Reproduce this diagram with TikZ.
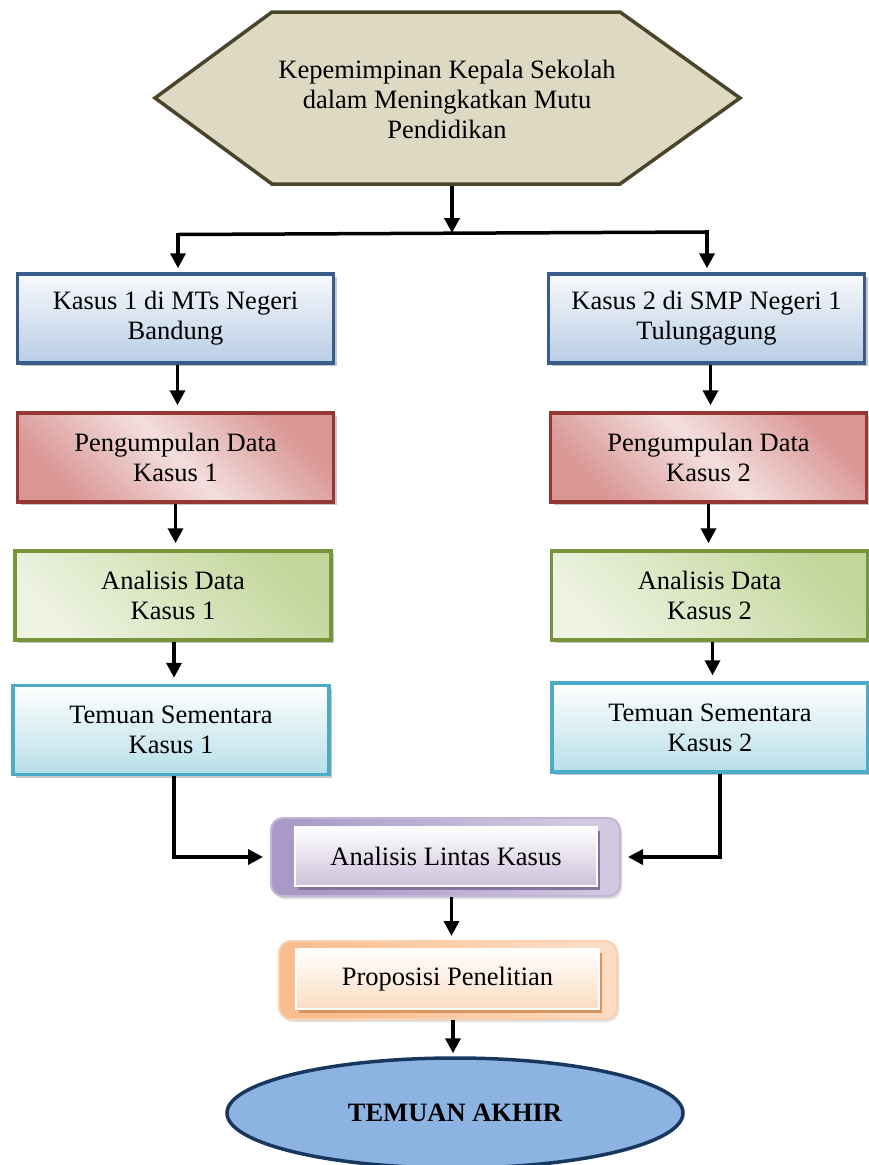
\documentclass[tikz,border=0pt]{standalone}
\usepackage{fontspec}
\setmainfont{Liberation Serif}
\usetikzlibrary{arrows.meta,shapes.geometric,shadows,calc}
\definecolor{hexfill}{HTML}{DDD9C3}
\definecolor{hexbd}{HTML}{4A452A}
\definecolor{bluebd}{HTML}{385D8A}
\definecolor{bluetop}{HTML}{F7F9FC}
\definecolor{bluebot}{HTML}{B9CDE5}
\definecolor{redbd}{HTML}{953735}
\definecolor{reddk}{HTML}{D99694}
\definecolor{redlt}{HTML}{F3DFDE}
\definecolor{greenbd}{HTML}{77933C}
\definecolor{greendk}{HTML}{C3D69B}
\definecolor{greenlt}{HTML}{EEF3E2}
\definecolor{cyanbd}{HTML}{4BACC6}
\definecolor{cyanbot}{HTML}{B7DEE8}
\definecolor{purdk}{HTML}{A999C6}
\definecolor{purlt}{HTML}{D2C8E0}
\definecolor{purin}{HTML}{CCC1DA}
\definecolor{purbd}{HTML}{C2B6D6}
\definecolor{purshadow}{HTML}{85729F}
\definecolor{ordk}{HTML}{F9BC8C}
\definecolor{orlt}{HTML}{FCDCC2}
\definecolor{orbd}{HTML}{FBD0AE}
\definecolor{orshadow}{HTML}{D9955F}
\definecolor{ellfill}{HTML}{8DB3E2}
\definecolor{ellbd}{HTML}{17375E}
\begin{document}
\begin{tikzpicture}[x=1pt,y=-1pt,
  every node/.style={font=\fontsize{26.5}{30}\selectfont, align=center},
  conn/.style={line width=3.5pt, black},
  arr/.style={conn, -{Triangle[length=15pt,width=15pt]}},
  box/.style={rectangle, minimum width=316pt, minimum height=89pt, line width=3.5pt, inner sep=2pt,
    drop shadow={shadow xshift=3pt, shadow yshift=-3pt, fill=black!22, opacity=1}},
  bluebox/.style={box, draw=bluebd, top color=bluetop, bottom color=bluebot},
  redbox/.style={box, draw=redbd, top color=reddk, bottom color=reddk, middle color=redlt, shading angle=-45},
  greenbox/.style={box, draw=greenbd, top color=greendk, bottom color=greenlt, shading angle=-45},
  cyanbox/.style={box, draw=cyanbd, top color=white, bottom color=cyanbot},
  outerbox/.style={rectangle, rounded corners=12pt, line width=2pt},
  innerbox/.style={rectangle, draw=white, line width=1.5pt, top color=white},
]
\useasboundingbox (0,0) rectangle (869,1165);

% top hexagon
\draw[fill=hexfill, draw=hexbd, line width=3.5pt, line join=miter]
  (272,12) -- (620,12) -- (740,98) -- (620,184) -- (272,184) -- (155,98) -- cycle;
\node (top) at (447,99) {Kepemimpinan Kepala Sekolah\\dalam Meningkatkan Mutu\\Pendidikan};
\coordinate (hexb) at (452,186);
\coordinate (jn) at (452,233);
\coordinate (jl) at (178,234.5);
\coordinate (jr) at (707,232);

% left column
\node[bluebox] (k1) at (175.5,318.5) {Kasus 1 di MTs Negeri\\Bandung};
\node[redbox] (p1) at (175.5,457.5) {Pengumpulan Data\\Kasus 1};
\node[greenbox] (a1) at (173,595.5) {Analisis Data\\Kasus 1};
\node[cyanbox] (t1) at (171,730) {Temuan Sementara\\Kasus 1};

% right column
\node[bluebox] (k2) at (706.5,318.5) {Kasus 2 di SMP Negeri 1\\Tulungagung};
\node[redbox] (p2) at (708.5,457.5) {Pengumpulan Data\\Kasus 2};
\node[greenbox] (a2) at (709.5,595.5) {Analisis Data\\Kasus 2};
\node[cyanbox] (t2) at (710,727.5) {Temuan Sementara\\Kasus 2};

% cross case analysis
\node[outerbox, draw=purbd, top color=purlt, bottom color=purdk, shading angle=-60,
  minimum width=349pt, minimum height=78pt,
  drop shadow={shadow xshift=2pt, shadow yshift=-3pt, fill=black!15, opacity=1}] (lin) at (445.5,857) {};
\node[innerbox, bottom color=purin, minimum width=302pt, minimum height=59pt,
  drop shadow={shadow xshift=3pt, shadow yshift=-4pt, fill=purshadow, opacity=1}] (lini) at (446,856.5) {Analisis Lintas Kasus};

% proposition
\node[outerbox, draw=orbd, top color=orlt, bottom color=ordk, shading angle=-60,
  minimum width=338pt, minimum height=78pt,
  drop shadow={shadow xshift=2pt, shadow yshift=-3pt, fill=black!12, opacity=1}] (prop) at (448,980) {};
\node[innerbox, bottom color=orlt, minimum width=303pt, minimum height=60pt,
  drop shadow={shadow xshift=3pt, shadow yshift=-4pt, fill=orshadow, opacity=1}] (propi) at (447.5,979) {Proposisi Penelitian};

% final
\node[ellipse, draw=ellbd, fill=ellfill, line width=3.5pt, minimum width=456pt, minimum height=110pt,
  font=\fontsize{26.5}{30}\selectfont\bfseries] (end) at (455,1113) {TEMUAN AKHIR};

% connectors
\draw[arr] (hexb) -- (jn);
\draw[conn] (jl) -- (jr);
\draw[arr, shorten >=4pt] ([yshift=1.7pt]jl) -- (jl |- k1.north);
\draw[arr, shorten >=4pt] ([yshift=1.7pt]jr) -- (jr |- k2.north);

\draw[arr, shorten >=6pt] ([xshift=2pt]k1.south) -- ([xshift=2pt]k1.south |- p1.north);
\draw[arr, shorten >=6pt] (p1.south) -- (p1.south |- a1.north);
\draw[arr, shorten >=6pt] ([xshift=1pt]a1.south) -- ([xshift=1pt]a1.south |- t1.north);
\draw[arr, shorten >=6pt] ([xshift=4pt]k2.south) -- ([xshift=4pt]k2.south |- p2.north);
\draw[arr, shorten >=6pt] (p2.south) -- (p2.south |- a2.north);
\draw[arr, shorten >=6pt] ([xshift=3pt]a2.south) -- ([xshift=3pt]a2.south |- t2.north);

\draw[arr, shorten >=7pt] ([xshift=3pt]t1.south) |- (lin.west);
\draw[arr, shorten >=7pt] ([xshift=10pt]t2.south) |- (lin.east);

\draw[arr, shorten >=4pt] ([xshift=6pt]lin.south) -- ([xshift=6pt]lin.south |- prop.north);
\draw[arr, shorten >=3pt] ([xshift=5pt]prop.south) -- ([xshift=5pt]prop.south |- end.north);
\end{tikzpicture}
\end{document}
